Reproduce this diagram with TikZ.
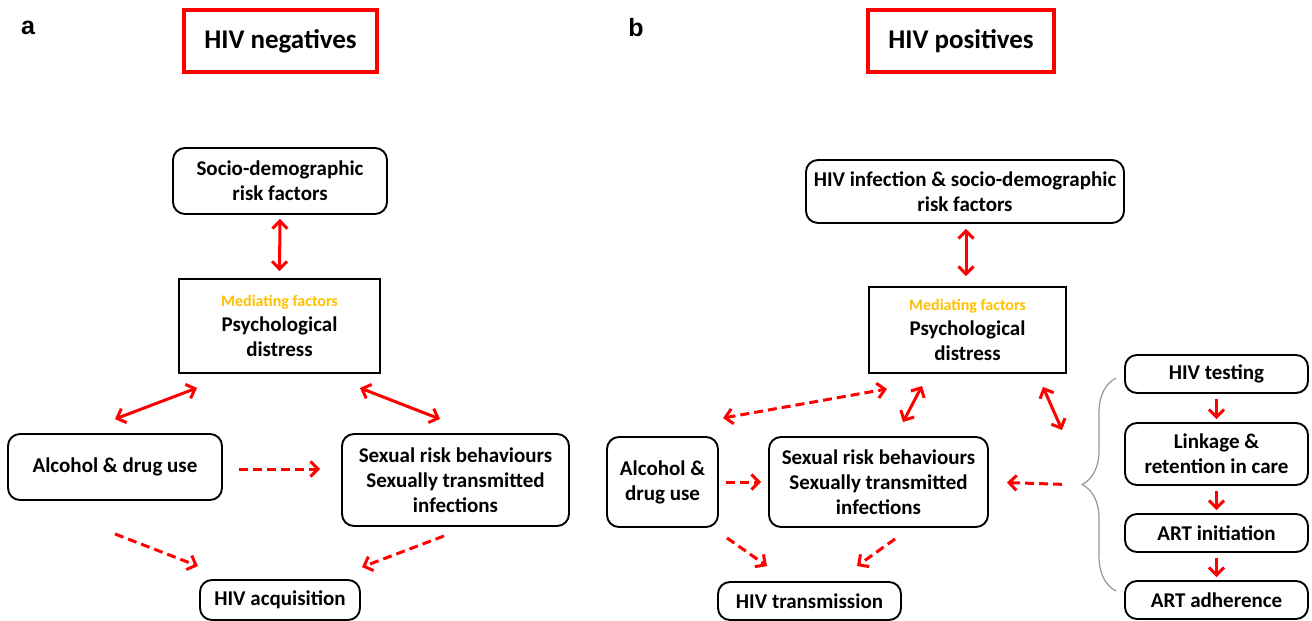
\documentclass[tikz,border=0pt]{standalone}
\usepackage{fontspec}
\setmainfont{Carlito}
\newfontfamily\labelfont{Liberation Sans}
\usetikzlibrary{arrows.meta,calc,decorations.pathreplacing}
\definecolor{HivRed}{RGB}{255,0,0}
\definecolor{MediGold}{RGB}{255,192,0}
\definecolor{BraceGray}{RGB}{150,150,150}

\begin{document}
\begin{tikzpicture}[
        x=1pt, y=-1pt,
        box/.style={draw=black, line width=1.9pt, rounded corners=12pt, align=center, inner sep=0pt, font=\fontsize{21}{25}\selectfont\bfseries},
        sqbox/.style={box, rounded corners=0pt},
        titlebox/.style={draw=HivRed, line width=4pt, align=center, inner sep=0pt, font=\fontsize{27}{30}\selectfont\bfseries},
        panel/.style={font=\labelfont\fontsize{25}{30}\selectfont\bfseries, inner sep=0pt},
        link/.style={HivRed, line width=3pt, -{Straight Barb[length=7.5pt,width=15pt]}},
        dbl/.style={link, {Straight Barb[length=7.5pt,width=15pt]}-{Straight Barb[length=7.5pt,width=15pt]}},
        dsh/.style={dash pattern=on 9pt off 5pt},
        brace/.style={draw=BraceGray, line width=1.2pt, decorate, decoration={brace, amplitude=34pt}}
      ]
        \useasboundingbox (0,0) rectangle (1312,621);
        % panel a
        \node[panel] (lbla) at (28,28) {a};
        \node[titlebox, minimum width=193, minimum height=62] (titlea) at (280.5,41) {HIV negatives};
        \node[box, minimum width=214, minimum height=66] (socio) at (280,181) {Socio-demographic\\risk factors};
        \node[sqbox, minimum width=201, minimum height=94] (psycha) at (279.5,326) {{\fontsize{16}{18}\selectfont\color{MediGold}Mediating factors}\\Psychological\\distress};
        \node[box, minimum width=214, minimum height=66] (alca) at (115,467) {Alcohol \& drug use};
        \node[box, minimum width=227, minimum height=92] (sexa) at (455.5,480) {Sexual risk behaviours\\Sexually transmitted\\infections};
        \node[box, minimum width=160, minimum height=40] (acqa) at (280,600) {HIV acquisition};
        \draw[dbl] ($(socio.south)+(0,4)$) -- ($(psycha.north)+(0,-7)$);
        \draw[dbl] ($(psycha.south)+(-82.5,14)$) -- ($(alca.north)+(0,-14)$);
        \draw[dbl] ($(psycha.south)+(80.5,14)$) -- ($(sexa.north)+(-15.5,-14)$);
        \draw[link, dsh] ($(alca.east)+(16,2)$) -- ($(sexa.west)+(-21,-11)$);
        \draw[link, dsh] ($(alca.south)+(0,33)$) -- ($(acqa.north)+(-82,-13)$);
        \draw[link, dsh] ($(sexa.south)+(-11.5,9)$) -- ($(acqa.north)+(82,-12)$);
        % panel b
        \node[panel] (lblb) at (636,28) {b};
        \node[titlebox, minimum width=186, minimum height=62] (titleb) at (961,41) {HIV positives};
        \node[box, minimum width=318, minimum height=63] (infect) at (965,191.5) {HIV infection \& socio-demographic\\risk factors};
        \node[sqbox, minimum width=197, minimum height=86] (psychb) at (967.5,330) {{\fontsize{16}{18}\selectfont\color{MediGold}Mediating factors}\\Psychological\\distress};
        \node[box, minimum width=111, minimum height=90] (alcb) at (662.5,482) {Alcohol \&\\drug use};
        \node[box, minimum width=219, minimum height=90] (sexb) at (878.5,482) {Sexual risk behaviours\\Sexually transmitted\\infections};
        \node[box, minimum width=183, minimum height=38] (trans) at (809.5,601) {HIV transmission};
        \node[box, minimum width=183, minimum height=38] (test) at (1216.5,374) {HIV testing};
        \node[box, minimum width=183, minimum height=62] (retain) at (1216.5,454) {Linkage \&\\retention in care};
        \node[box, minimum width=183, minimum height=38] (init) at (1216.5,533) {ART initiation};
        \node[box, minimum width=183, minimum height=38] (adher) at (1216.5,600) {ART adherence};
        \coordinate (care) at (1083,485);
        \draw[dbl] ($(infect.south)+(1,5)$) -- ($(psychb.north)+(-1.5,-10)$);
        \draw[dbl, dsh] ($(alcb.north)+(60.5,-18)$) -- ($(psychb.south)+(-80.5,15)$);
        \draw[dbl] ($(sexb.north)+(24.5,-14)$) -- ($(psychb.south)+(-45.5,12)$);
        \draw[dbl] ($(psychb.south)+(75.5,13)$) -- ($(care)+(-21,-55)$);
        \draw[link, dsh, shorten <=21pt, shorten >=18pt] (care) -- (sexb.east);
        \draw[link, dsh, shorten <=7pt, shorten >=7pt] (alcb.east) -- (sexb.west);
        \draw[link, dsh] ($(alcb.south)+(64.5,10)$) -- ($(trans.north)+(-42.5,-15)$);
        \draw[link, dsh] ($(sexb.south)+(16.5,11)$) -- ($(trans.north)+(47.5,-15)$);
        \draw[link, shorten <=5pt, shorten >=3pt] (test) -- (retain);
        \draw[link, shorten <=5pt, shorten >=3pt] (retain) -- (init);
        \draw[link, shorten <=5pt, shorten >=3pt] (init) -- (adher);
        \draw[brace] ($(adher.west)+(-8,-9)$) -- ($(test.west)+(-8,4)$);
      \end{tikzpicture}
\end{document}
